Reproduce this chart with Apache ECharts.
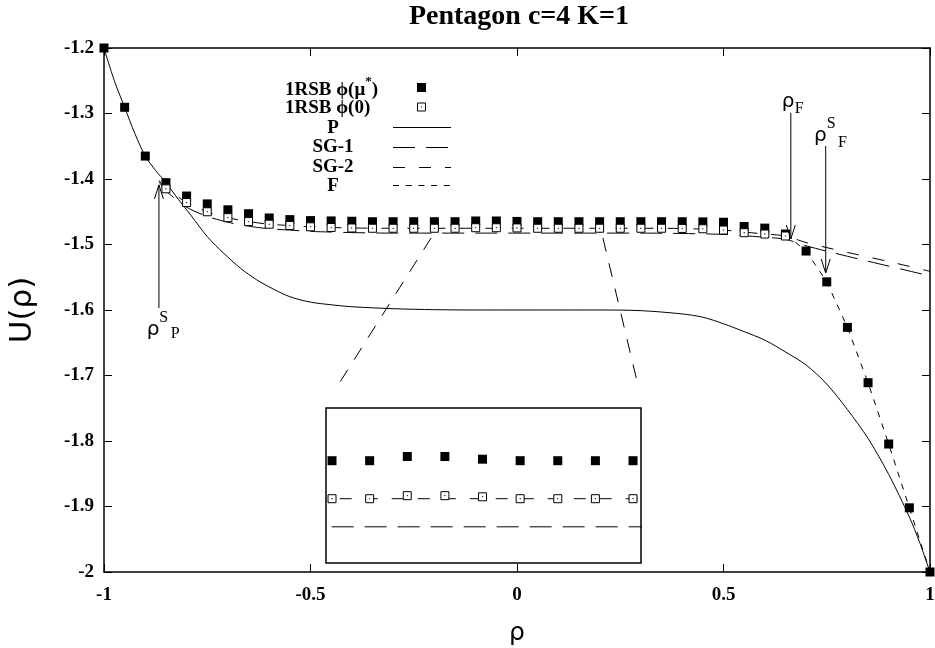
<!DOCTYPE html>
<html>
<head>
<meta charset="utf-8">
<title>Pentagon c=4 K=1</title>
<script src="https://cdn.jsdelivr.net/npm/echarts@6.0.0/dist/echarts.min.js"></script>
<style>
  html, body { margin: 0; padding: 0; background: #fff; }
  #chart { width: 935px; height: 648px; }
</style>
</head>
<body>
<div id="chart"></div>
<script>
// 1RSB phi(mu*) : filled squares
var filledRho = [-1, -0.95, -0.9, -0.85, -0.8, -0.75, -0.7, -0.65, -0.6, -0.55, -0.5, -0.45, -0.4,
  -0.35, -0.3, -0.25, -0.2, -0.15, -0.1, -0.05, 0, 0.05, 0.1, 0.15, 0.2, 0.25, 0.3, 0.35, 0.4,
  0.45, 0.5, 0.55, 0.6, 0.65, 0.7, 0.75, 0.8, 0.85, 0.9, 0.95, 1];
var filledU = [-1.2, -1.2905, -1.365, -1.4056, -1.426, -1.438, -1.447, -1.453, -1.4595, -1.462, -1.4635, -1.464, -1.4645,
  -1.4652, -1.4652, -1.4652, -1.4652, -1.4652, -1.4641, -1.4641, -1.4648, -1.4652, -1.4652, -1.4652, -1.4652, -1.4652, -1.4652, -1.4652, -1.4652,
  -1.4655, -1.466, -1.4725, -1.475, -1.484, -1.51, -1.557, -1.6265, -1.711, -1.8046, -1.902, -2.0];

// 1RSB phi(0) : open squares
var openRho = [-0.85, -0.8, -0.75, -0.7, -0.65, -0.6, -0.55, -0.5, -0.45, -0.4,
  -0.35, -0.3, -0.25, -0.2, -0.15, -0.1, -0.05, 0, 0.05, 0.1, 0.15, 0.2, 0.25, 0.3, 0.35,
  0.4, 0.45, 0.5, 0.55, 0.6, 0.65];
var openU = [-1.415, -1.436, -1.45, -1.459, -1.465, -1.469, -1.471, -1.473, -1.474, -1.4748,
  -1.4752, -1.4752, -1.4752, -1.4752, -1.4752, -1.4744, -1.4744, -1.4747, -1.4752, -1.4752, -1.4752, -1.4752, -1.4752, -1.4752, -1.4752,
  -1.4755, -1.476, -1.478, -1.482, -1.484, -1.487];

// P (solid)
var pRho = [-1, -0.975, -0.95, -0.925, -0.9, -0.875, -0.85, -0.82, -0.79, -0.75, -0.71, -0.67, -0.63, -0.59, -0.55,
  -0.5, -0.45, -0.4, -0.3, -0.2, -0.1, 0, 0.1, 0.2, 0.3, 0.4, 0.45, 0.5, 0.55, 0.6, 0.65, 0.7, 0.75,
  0.8, 0.85, 0.9, 0.95, 0.975, 1];
var pU = [-1.2, -1.25, -1.2905, -1.331, -1.365, -1.387, -1.4056, -1.431, -1.455, -1.488, -1.5135, -1.536, -1.554, -1.568, -1.5797,
  -1.588, -1.592, -1.595, -1.598, -1.5995, -1.6, -1.6, -1.6, -1.6, -1.601, -1.606, -1.611, -1.621, -1.633, -1.646, -1.664, -1.684, -1.713,
  -1.752, -1.796, -1.851, -1.916, -1.955, -2.0];

// SG-1 / SG-2 (dashed)
var sgRho = [-0.867, -0.85, -0.8, -0.75, -0.7, -0.65, -0.6, -0.55, -0.5, -0.45, -0.4,
  -0.3, -0.2, -0.1, 0, 0.1, 0.2, 0.3, 0.4, 0.5, 0.55, 0.6, 0.65, 0.7, 0.8, 0.9, 1];
var sg1U = [-1.404, -1.418, -1.443, -1.457, -1.466, -1.472, -1.476, -1.478, -1.48, -1.481, -1.4818,
  -1.4826, -1.4826, -1.4826, -1.4826, -1.4826, -1.4826, -1.4826, -1.4832, -1.4846, -1.4866, -1.489, -1.492, -1.502, -1.518, -1.533, -1.548];
var sg2U = [-1.402, -1.413, -1.436, -1.45, -1.459, -1.465, -1.469, -1.471, -1.473, -1.474, -1.4748,
  -1.4752, -1.4752, -1.4752, -1.4752, -1.4752, -1.4752, -1.4752, -1.4756, -1.478, -1.481, -1.484, -1.487, -1.497, -1.512, -1.526, -1.541];

// F (short dashes)
var fRho = [0.65, 0.7, 0.75, 0.8, 0.85, 0.9, 0.95, 1];
var fU = [-1.484, -1.51, -1.557, -1.6265, -1.711, -1.8046, -1.902, -2.0];

// dashed lines from the zoomed window down to the inset
var zoomLeftRho = [-0.208, -0.4286];
var zoomLeftU = [-1.49, -1.71];
var zoomRightRho = [0.208, 0.29];
var zoomRightU = [-1.49, -1.707];

// arrows: rho_F, rho^S_F, rho^S_P
var arrowRho = [0.663, 0.7475, -0.867];
var arrowFrom = [-1.299, -1.3496, -1.597];
var arrowTo = [-1.4916, -1.5435, -1.409];
var arrowText = ['{r|ρ}', '{r|ρ}{sup|S}', '{r|ρ}{sup|S}'];
var arrowSub = ['F', 'F', 'P'];

var SERIF = '"Liberation Serif", "Times New Roman", serif';
var SANS = '"DejaVu Sans", sans-serif';
var OPEN_SQ = 'path://M0,0H20V20H0Z M9.5,9.5H10.5V10.5H9.5Z';

function pts(xs, ys) {
  var out = [];
  for (var i = 0; i < xs.length; i++) out.push([xs[i], ys[i]]);
  return out;
}

function lineSeries(data, dash, xi, smooth) {
  return {
    type: 'line', data: data, xAxisIndex: xi, yAxisIndex: xi,
    showSymbol: false, symbol: 'none', smooth: smooth || false, z: 2, silent: true,
    lineStyle: { color: '#000', width: 1, type: dash }
  };
}

var axisLine = { show: true, onZero: false, lineStyle: { color: '#000', width: 1.5 } };
var tickIn = { show: true, inside: true, length: 8, lineStyle: { color: '#000', width: 1 } };
var tickLabel = { color: '#000', fontFamily: SERIF, fontWeight: 'bold', fontSize: 19 };

var chart = echarts.init(document.getElementById('chart'));

var option = {
  animation: false,
  backgroundColor: '#fff',
  title: {
    text: 'Pentagon c=4 K=1', left: 514, top: -2, textAlign: 'center',
    textStyle: { fontFamily: SERIF, fontWeight: 'bold', fontSize: 28, color: '#000' }
  },
  grid: [
    { left: 104, right: 5, top: 48, bottom: 76, outerBoundsMode: 'none' },
    { left: 326, top: 408, width: 315, height: 155, show: true, borderColor: '#000', borderWidth: 1.5,
      backgroundColor: '#fff', outerBoundsMode: 'none', z: 1 }
  ],
  xAxis: [
    { gridIndex: 0, type: 'value', min: -1, max: 1, interval: 0.5, position: 'bottom',
      name: 'ρ', nameLocation: 'middle', nameGap: 49,
      nameTextStyle: { fontFamily: SANS, fontSize: 25, color: '#000' },
      axisLine: axisLine, axisTick: tickIn, splitLine: { show: false },
      axisLabel: Object.assign({ margin: 14 }, tickLabel) },
    { gridIndex: 0, type: 'value', min: -1, max: 1, interval: 0.5, position: 'top',
      axisLine: axisLine, axisTick: tickIn, splitLine: { show: false }, axisLabel: { show: false } },
    { gridIndex: 1, type: 'value', min: -0.208, max: 0.2106, show: false, splitLine: { show: false } }
  ],
  yAxis: [
    { gridIndex: 0, type: 'value', min: -2, max: -1.2, interval: 0.1, position: 'left',
      name: 'U(ρ)', nameLocation: 'middle', nameGap: 66, nameRotate: 90,
      nameTextStyle: { fontFamily: SANS, fontSize: 31, color: '#000' },
      axisLine: axisLine, axisTick: tickIn, splitLine: { show: false },
      axisLabel: Object.assign({ margin: 10 }, tickLabel) },
    { gridIndex: 0, type: 'value', min: -2, max: -1.2, interval: 0.1, position: 'right',
      axisLine: axisLine, axisTick: tickIn, splitLine: { show: false }, axisLabel: { show: false } },
    { gridIndex: 1, type: 'value', min: -1.49212, max: -1.45133, show: false, splitLine: { show: false } }
  ],
  series: [
    lineSeries(pts(pRho, pU), 'solid', 0, 0.3),
    lineSeries(pts(sgRho, sg1U), [22, 11], 0, 0.3),
    lineSeries(pts(sgRho, sg2U), [12, 14], 0, 0.3),
    lineSeries(pts(fRho, fU), [6, 6.7], 0),
    lineSeries(pts(zoomLeftRho, zoomLeftU), [14, 12], 0),
    lineSeries(pts(zoomRightRho, zoomRightU), [14, 12], 0),
    { type: 'scatter', data: pts(filledRho, filledU), symbol: 'rect', symbolSize: 9, clip: false, z: 3, silent: true,
      itemStyle: { color: '#000', opacity: 1 } },
    { type: 'scatter', data: pts(openRho, openU), symbol: OPEN_SQ, symbolSize: 8, clip: false, z: 4, silent: true,
      itemStyle: { color: '#fff', borderColor: '#000', borderWidth: 1, opacity: 1 } },
    // inset (magnified window -0.2 .. 0.2)
    lineSeries(pts(sgRho, sg1U), [22, 11], 2),
    lineSeries(pts(sgRho, sg2U), [12, 14], 2),
    { type: 'scatter', xAxisIndex: 2, yAxisIndex: 2, data: pts(filledRho, filledU), symbol: 'rect', symbolSize: 9,
      clip: true, z: 3, silent: true, itemStyle: { color: '#000', opacity: 1 } },
    { type: 'scatter', xAxisIndex: 2, yAxisIndex: 2, data: pts(openRho, openU), symbol: OPEN_SQ, symbolSize: 8,
      clip: true, z: 4, silent: true, itemStyle: { color: '#fff', borderColor: '#000', borderWidth: 1, opacity: 1 } }
  ]
};

chart.setOption(option);

// legend + annotations drawn as graphics
var g = [];
var legFont = 'bold 19px ' + SERIF;

function txt(text, x, y, align, font) {
  g.push({ type: 'text', z: 100, silent: true,
    style: { text: text, x: x, y: y, font: font || legFont, fill: '#000',
      align: align, textAlign: align, verticalAlign: 'middle', textVerticalAlign: 'middle' } });
}
function seg(x1, x2, y, dash) {
  g.push({ type: 'line', z: 100, silent: true, shape: { x1: x1, y1: y, x2: x2, y2: y },
    style: { stroke: '#000', lineWidth: 1, lineDash: dash } });
}

g.push({ type: 'text', z: 100, silent: true,
  style: { text: '{a|1RSB ϕ(μ}{s|*}{a|)}', x: 285, y: 90, fill: '#000',
    align: 'left', textAlign: 'left', verticalAlign: 'middle', textVerticalAlign: 'middle',
    rich: {
      a: { fontFamily: SERIF, fontWeight: 'bold', fontSize: 19, lineHeight: 30, verticalAlign: 'middle', fill: '#000', color: '#000' },
      s: { fontFamily: SERIF, fontWeight: 'bold', fontSize: 13, lineHeight: 12, verticalAlign: 'top', fill: '#000', color: '#000' }
    } } });
txt('1RSB ϕ(0)', 285, 108, 'left');
txt('P', 333, 128, 'center');
txt('SG-1', 333, 147, 'center');
txt('SG-2', 333, 167, 'center');
txt('F', 333, 186, 'center');

g.push({ type: 'rect', z: 100, silent: true, shape: { x: 417, y: 83, width: 9, height: 9 }, style: { fill: '#000' } });
g.push({ type: 'rect', z: 100, silent: true, shape: { x: 417.5, y: 103, width: 8, height: 8 },
  style: { fill: '#fff', stroke: '#000', lineWidth: 1 } });
g.push({ type: 'rect', z: 101, silent: true, shape: { x: 421, y: 106.5, width: 1, height: 1 }, style: { fill: '#000' } });
seg(393, 451, 127.5, null);
seg(393, 451, 147.5, [22, 11]);
seg(393, 451, 167.5, [12, 14]);
seg(393, 451, 185.5, [6, 6.7]);

// label offsets from the arrow tail: [rho dx, rho dy, subscript dx, subscript dy]
var labelOffset = [[-9, -31, 4, -4.5], [-11.7, -30.6, 12.3, -3.5], [-12.3, 1.5, 11.7, 25.4]];
for (var i = 0; i < arrowRho.length; i++) {
  var p0 = chart.convertToPixel({ gridIndex: 0 }, [arrowRho[i], arrowFrom[i]]);
  var p1 = chart.convertToPixel({ gridIndex: 0 }, [arrowRho[i], arrowTo[i]]);
  var dir = p1[1] > p0[1] ? -1 : 1;
  var off = labelOffset[i];
  g.push({ type: 'line', z: 100, silent: true, shape: { x1: p0[0], y1: p0[1], x2: p1[0], y2: p1[1] },
    style: { stroke: '#000', lineWidth: 1 } });
  g.push({ type: 'polyline', z: 100, silent: true,
    shape: { points: [[p1[0] - 4.5, p1[1] + dir * 14], [p1[0], p1[1]], [p1[0] + 4.5, p1[1] + dir * 14]] },
    style: { stroke: '#000', lineWidth: 1, fill: null } });
  g.push({ type: 'text', z: 100, silent: true,
    style: { text: arrowText[i], x: p0[0] + off[0], y: p0[1] + off[1], fill: '#000',
      align: 'left', textAlign: 'left', verticalAlign: 'top', textVerticalAlign: 'top',
      rich: {
        r: { fontFamily: SANS, fontSize: 20, lineHeight: 40, verticalAlign: 'middle', fill: '#000', color: '#000' },
        sup: { fontFamily: SERIF, fontSize: 16, lineHeight: 16, verticalAlign: 'top', fill: '#000', color: '#000' }
      } } });
  txt(arrowSub[i], p0[0] + off[2], p0[1] + off[3], 'left', '16px ' + SERIF);
}

chart.setOption({ graphic: { elements: g } });
</script>
</body>
</html>
